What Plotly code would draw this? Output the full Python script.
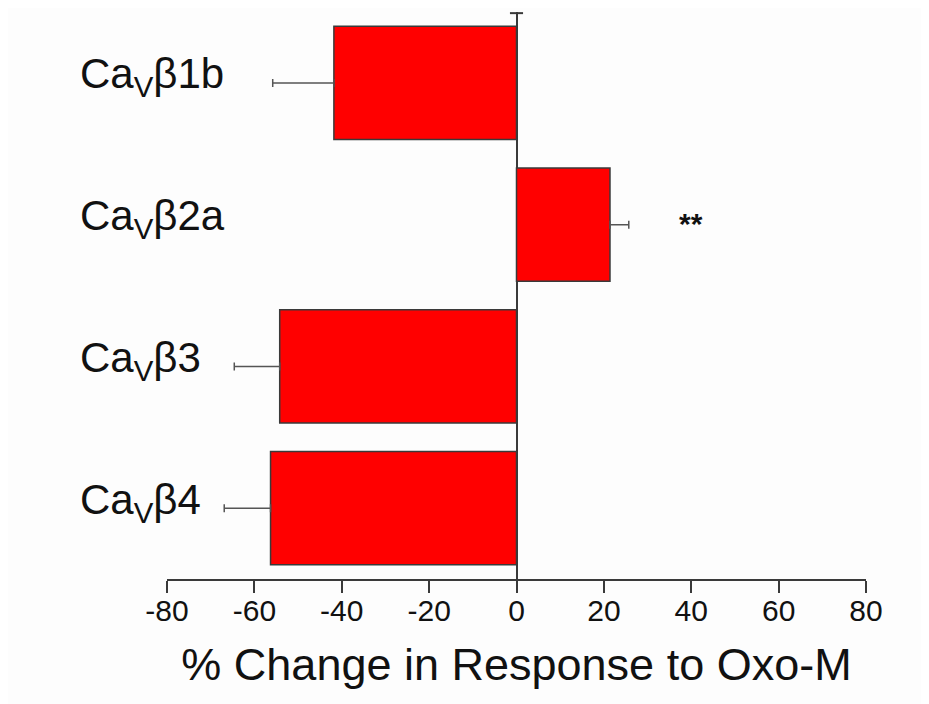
import plotly.graph_objects as go

categories = ["β1b", "β2a", "β3", "β4"]
label_texts = ["Ca<sub>V</sub>β1b", "Ca<sub>V</sub>β2a", "Ca<sub>V</sub>β3", "Ca<sub>V</sub>β4"]
values = [-41.8, 21.4, -54.2, -56.3]
err_plus = [0, 4.3, 0, 0]
err_minus = [14.0, 0, 10.4, 10.6]
tick_vals = [-80, -60, -40, -20, 0, 20, 40, 60, 80]
tick_text = ["-80", "-60", "-40", "-20", "0", "20", "40", "60", "80"]
sig_category = "β2a"
sig_text = "<b>**</b>"
sig_x = 40

FONT = "Liberation Sans, Arial, sans-serif"

fig = go.Figure()
fig.add_trace(go.Bar(
    x=values, y=categories, orientation="h",
    width=0.8,
    marker=dict(color="#ff0000", line=dict(color="#3a3a3a", width=1.5)),
    error_x=dict(type="data", symmetric=False, array=err_plus, arrayminus=err_minus,
                 color="#555555", thickness=1.5, width=4),
    showlegend=False,
))

for cat, txt in zip(categories, label_texts):
    fig.add_annotation(x=-0.127, xref="paper", y=cat, yref="y", text=txt,
                       showarrow=False, xanchor="left", yanchor="middle", yshift=6,
                       font=dict(family=FONT, size=42, color="#111111"))

fig.add_annotation(x=sig_x, y=sig_category, xref="x", yref="y", text=sig_text,
                   showarrow=False, xanchor="center", yanchor="middle", yshift=1,
                   font=dict(family=FONT, size=30, color="#111111"))

# small cap at top of zero line
fig.add_shape(type="line", xref="x", yref="paper", x0=-1.5, x1=1.5, y0=0.998, y1=0.998,
              line=dict(color="#3a3a3a", width=2))

fig.update_layout(
    width=921, height=696,
    margin=dict(l=159, r=63, t=4, b=125),
    paper_bgcolor="#fdfdfd", plot_bgcolor="#fdfdfd",
    font=dict(family=FONT, color="#111111"),
    xaxis=dict(range=[-80, 80], tickvals=tick_vals, ticktext=tick_text, showgrid=False,
               zeroline=True, zerolinecolor="#3a3a3a", zerolinewidth=2,
               showline=True, linecolor="#3a3a3a", linewidth=2,
               ticks="outside", ticklen=12, tickwidth=2, tickcolor="#3a3a3a",
               ticklabelstandoff=-8,
               tickfont=dict(size=30, family=FONT, color="#111111"),
               title=dict(text="% Change in Response to Oxo-M", standoff=22,
                          font=dict(size=45, family=FONT, color="#111111"))),
    yaxis=dict(type="category", categoryorder="array", categoryarray=categories,
               range=[3.5, -0.5], showticklabels=False, showgrid=False,
               zeroline=False, showline=False, ticks=""),
    bargap=0.2,
)

fig.write_html("out.html")
